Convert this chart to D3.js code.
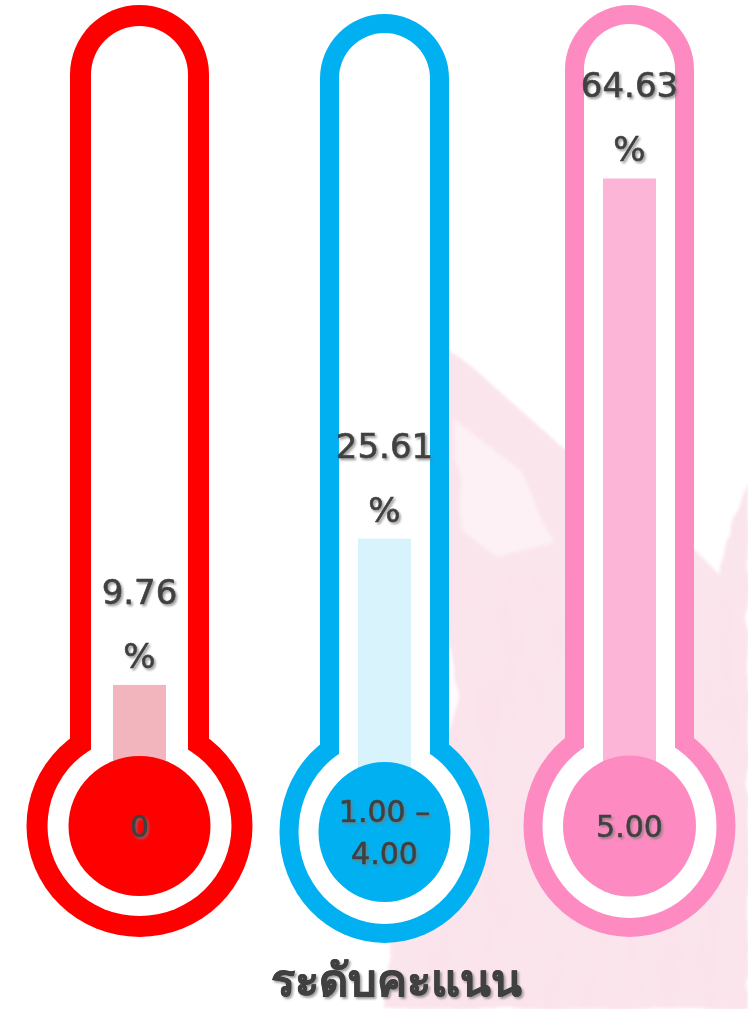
<!DOCTYPE html>
<html>
<head>
<meta charset="utf-8">
<script src="https://cdn.jsdelivr.net/npm/d3@7"></script>
<style>
  body { margin: 0; background: #fff; }
  svg { display: block; }
  text { font-family: "DejaVu Sans", sans-serif; fill: #404040; stroke: #404040; stroke-width: 0.6; }
</style>
</head>
<body>
<svg id="chart" width="748" height="1009"></svg>
<script>
// data
const levels = ['0', '1.00 - 4.00', '5.00']
const bulbLines = [['0'], ['1.00 –', '4.00'], ['5.00']]
const percents = [9.76, 25.61, 64.63]
const title = 'ระดับคะแนน'

// look of each thermometer (not data)
const colours = {
    frame: ['#ff0000', '#00b0f0', '#fd8bc1'],
    bar: ['#f2b5bd', '#d8f3fc', '#fdb5d7']
}
const shape = [
    { hw: 69.5, top: 5, cy: 826, rx: 113, ry: 111, irx: 71, iry: 70, t: 21 },
    { hw: 64.5, top: 14, cy: 832, rx: 105, ry: 111, irx: 66, iry: 70, t: 19 },
    { hw: 64.5, top: 5, cy: 826, rx: 106, ry: 111, irx: 66.5, iry: 70.5, t: 19 }
]

const svg = d3.select('#chart')

const x = d3.scalePoint()
    .domain(levels)
    .range([139.5, 629.5])

// 0..100 % on the tube, zero sits under the bulb
const y = d3.scaleLinear()
    .domain([0, 100])
    .range([775, 775 - 923])

const defs = svg.append('defs')
const shadow = defs.append('filter').attr('id', 'shadow')
    .attr('x', '-20%').attr('y', '-20%').attr('width', '140%').attr('height', '140%')
shadow.append('feDropShadow')
    .attr('dx', 1.8).attr('dy', 2).attr('stdDeviation', 1)
    .attr('flood-color', '#777').attr('flood-opacity', 0.7)

// watercolour wash
const wash = defs.append('filter').attr('id', 'wash')
    .attr('x', '-10%').attr('y', '-10%').attr('width', '120%').attr('height', '120%')
wash.append('feTurbulence')
    .attr('type', 'fractalNoise').attr('baseFrequency', '0.015 0.03')
    .attr('numOctaves', 2).attr('seed', 4).attr('result', 'noise')
wash.append('feDisplacementMap')
    .attr('in', 'SourceGraphic').attr('in2', 'noise').attr('scale', 10)
    .attr('result', 'disp')
wash.append('feGaussianBlur').attr('in', 'disp').attr('stdDeviation', 1.5)

const grain = defs.append('filter').attr('id', 'grain')
grain.append('feTurbulence')
    .attr('type', 'fractalNoise').attr('baseFrequency', '0.05 0.015')
    .attr('numOctaves', 4).attr('seed', 9)
grain.append('feColorMatrix')
    .attr('type', 'matrix')
    .attr('values', '0 0 0 0 0.93  0 0 0 0 0.6  0 0 0 0 0.72  0 0 0 0.6 -0.25')
grain.append('feComposite').attr('in2', 'SourceGraphic').attr('operator', 'in')

const washPath = 'M408,322 L470,365 L560,445 L640,505 L690,545 L718,573 L748,480 '
    + 'L748,1009 L385,1009 L393,900 L430,800 L460,700 L440,600 L425,470 Z'

const bg = svg.append('g').attr('filter', 'url(#wash)')
bg.append('path')
    .attr('fill', '#fbe5ed')
    .attr('d', washPath)
bg.append('path')
    .attr('fill', '#ffffff').attr('opacity', 0.45)
    .attr('d', 'M455,420 L520,470 L552,540 L500,560 L462,530 Z')
svg.append('path')
    .attr('fill', '#000')
    .attr('opacity', 0.5)
    .attr('filter', 'url(#grain)')
    .attr('d', 'M430,560 L748,600 L748,1009 L392,1009 L400,880 Z')

function tubePath(cx, s, inset) {
    const hw = s.hw - inset
    const top = s.top + inset
    const ac = s.top + s.hw // centre of the cap arc
    return `M${cx - hw},${s.cy} L${cx - hw},${ac} `
        + `A${hw},${ac - top} 0 0 1 ${cx + hw},${ac} `
        + `L${cx + hw},${s.cy} Z`
}

const th = svg.selectAll('g.thermo')
    .data(levels.map((d, i) => ({ level: d, pct: percents[i], lines: bulbLines[i], i })))
    .join('g')
    .attr('class', 'thermo')

// outer coloured body
th.append('path')
    .attr('fill', d => colours.frame[d.i])
    .attr('d', d => tubePath(x(d.level), shape[d.i], 0))
th.append('ellipse')
    .attr('fill', d => colours.frame[d.i])
    .attr('cx', d => x(d.level))
    .attr('cy', d => shape[d.i].cy)
    .attr('rx', d => shape[d.i].rx)
    .attr('ry', d => shape[d.i].ry)

// white inside
th.append('ellipse')
    .attr('fill', '#fff')
    .attr('cx', d => x(d.level))
    .attr('cy', d => shape[d.i].cy)
    .attr('rx', d => shape[d.i].rx - shape[d.i].t)
    .attr('ry', d => shape[d.i].ry - shape[d.i].t)
th.append('path')
    .attr('fill', '#fff')
    .attr('d', d => tubePath(x(d.level), shape[d.i], shape[d.i].t))

// value column
th.append('rect')
    .attr('fill', d => colours.bar[d.i])
    .attr('x', d => x(d.level) - 26.5)
    .attr('width', 53)
    .attr('y', d => y(d.pct))
    .attr('height', d => y(0) - y(d.pct))

// bulb
th.append('ellipse')
    .attr('fill', d => colours.frame[d.i])
    .attr('cx', d => x(d.level))
    .attr('cy', d => shape[d.i].cy)
    .attr('rx', d => shape[d.i].irx)
    .attr('ry', d => shape[d.i].iry)

// value labels above the column
th.append('text')
    .attr('filter', 'url(#shadow)')
    .attr('text-anchor', 'middle')
    .attr('font-size', 34)
    .attr('x', d => x(d.level))
    .attr('y', d => y(d.pct) - 81)
    .text(d => d.pct.toFixed(2))
th.append('text')
    .attr('filter', 'url(#shadow)')
    .attr('text-anchor', 'middle')
    .attr('font-size', 34)
    .attr('x', d => x(d.level))
    .attr('y', d => y(d.pct) - 17)
    .text('%')

// level label inside bulb
th.each(function (d) {
    const n = d.lines.length
    const g = d3.select(this)
    d.lines.forEach((line, k) => {
        g.append('text')
            .attr('filter', 'url(#shadow)')
            .attr('text-anchor', 'middle')
            .attr('font-size', 30)
            .attr('x', x(d.level))
            .attr('y', shape[d.i].cy + 11 + (k - (n - 1) / 2) * 42)
            .text(line)
    })
})

svg.append('text')
    .attr('filter', 'url(#shadow)')
    .attr('text-anchor', 'middle')
    .attr('font-size', 45)
    .attr('font-weight', 'bold')
    .attr('x', 396)
    .attr('y', 996)
    .text(title)
</script>
</body>
</html>
